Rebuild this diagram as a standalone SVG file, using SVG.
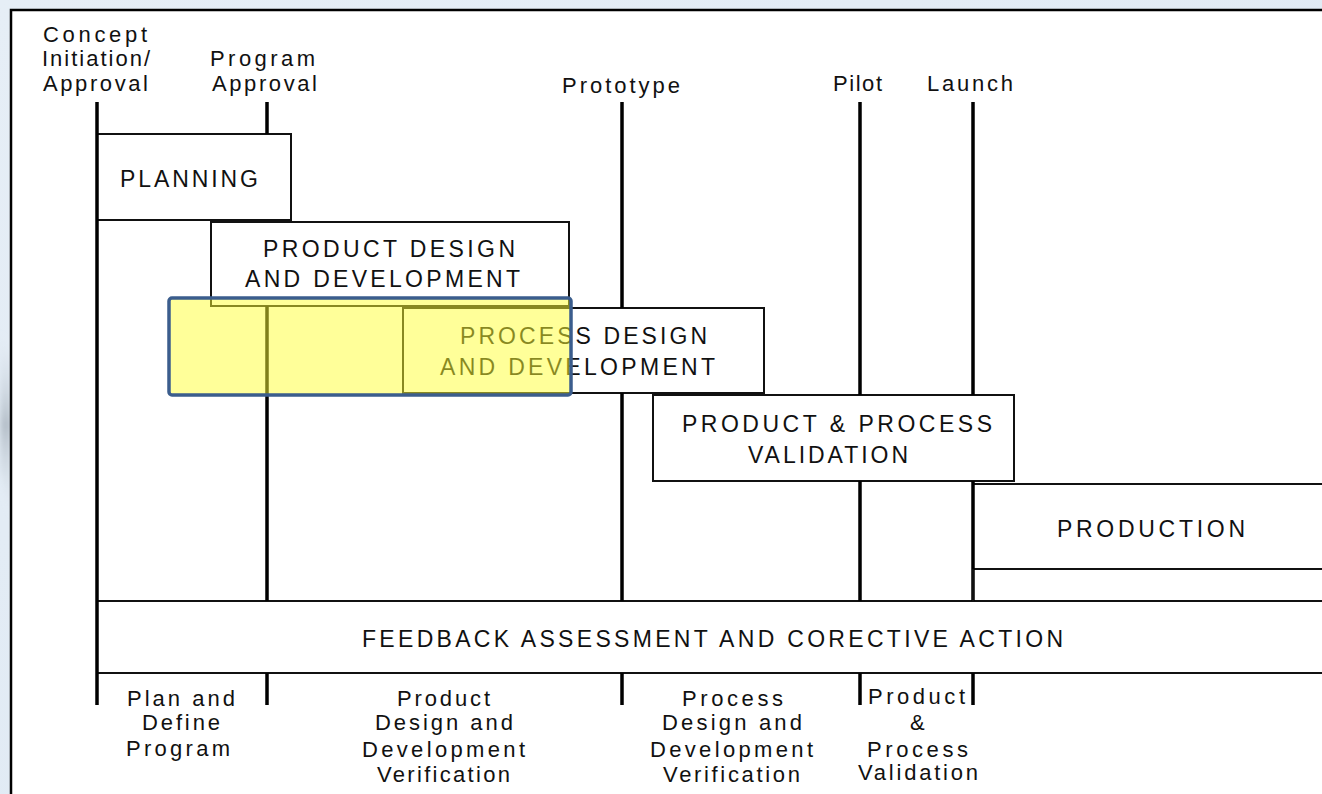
<svg xmlns="http://www.w3.org/2000/svg" width="1322" height="794" viewBox="0 0 1322 794">
  <defs>
    <linearGradient id="bg" x1="0" y1="0" x2="1" y2="1">
      <stop offset="0" stop-color="#e6eef6"/>
      <stop offset="1" stop-color="#dde8f3"/>
    </linearGradient>
    <linearGradient id="swoosh" x1="0" y1="0" x2="0" y2="1">
      <stop offset="0" stop-color="#dfe7ef" stop-opacity="0"/>
      <stop offset="0.5" stop-color="#b4bec8"/>
      <stop offset="1" stop-color="#dfe7ef" stop-opacity="0"/>
    </linearGradient>
    <filter id="soft" x="-1" y="-1" width="3" height="3">
      <feGaussianBlur stdDeviation="3"/>
    </filter>
  </defs>
  <style>
    text { font-family: "Liberation Sans", Arial, sans-serif; fill: #111; }
    .cap { font-size: 23px; }
    .lbl { font-size: 22px; }
    .box { fill: #fff; stroke: #111; stroke-width: 2; }
    .gate { stroke: #000; stroke-width: 3.5; fill: none; }
    .rule { stroke: #111; stroke-width: 2; fill: none; }
  </style>

  <!-- slide background -->
  <rect x="0" y="0" width="1322" height="794" fill="url(#bg)"/>
  <path d="M0 330 L12 360 L12 520 L0 470 Z" fill="url(#swoosh)" filter="url(#soft)"/>

  <!-- white chart panel -->
  <rect id="panel" x="11" y="10" width="1330" height="800" fill="#fff" stroke="#000" stroke-width="2.5"/>

  <!-- phase boxes -->
  <g id="planning">
    <rect class="box" x="97" y="134" width="194" height="86"/>
    <text class="cap" x="120" y="187" textLength="138">PLANNING</text>
  </g>
  <g id="product-design">
    <rect class="box" x="211" y="222" width="358" height="84"/>
    <text class="cap" x="263" y="257" textLength="252">PRODUCT DESIGN</text>
    <text class="cap" x="245" y="287" textLength="275">AND DEVELOPMENT</text>
  </g>
  <g id="process-design">
    <rect class="box" x="403" y="308" width="361" height="85"/>
    <text class="cap" x="460" y="344" textLength="247">PROCESS DESIGN</text>
    <text class="cap" x="440" y="375" textLength="275">AND DEVELOPMENT</text>
  </g>
  <g id="validation">
    <rect class="box" x="653" y="395" width="361" height="86"/>
    <text class="cap" x="682" y="432" textLength="310">PRODUCT &amp; PROCESS</text>
    <text class="cap" x="748" y="463" textLength="160">VALIDATION</text>
  </g>
  <g id="production">
    <rect class="box" x="973" y="484" width="400" height="85"/>
    <text class="cap" x="1057" y="537" textLength="188">PRODUCTION</text>
  </g>
  <g id="feedback">
    <rect class="box" x="97" y="601" width="1280" height="72"/>
    <text class="cap" x="362" y="647" textLength="701">FEEDBACK ASSESSMENT AND CORECTIVE ACTION</text>
  </g>

  <!-- milestone gates -->
  <g id="connectors">
    <path class="gate" d="M97 102 V705"/>
    <path class="gate" d="M267 102 V134 M267 306 V601 M267 673 V705"/>
    <path class="gate" d="M622 102 V308 M622 393 V601 M622 673 V705"/>
    <path class="gate" d="M860 102 V395 M860 481 V601 M860 673 V705"/>
    <path class="gate" d="M973 102 V395 M973 481 V601 M973 673 V705"/>
    <path class="rule" d="M973 601 V569"/>
  </g>

  <!-- milestone names -->
  <g id="milestone-concept">
    <text class="lbl" x="43" y="42" textLength="104">Concept</text>
    <text class="lbl" x="42" y="66" textLength="108">Initiation/</text>
    <text class="lbl" x="43" y="91" textLength="105">Approval</text>
  </g>
  <g id="milestone-program">
    <text class="lbl" x="210" y="66" textLength="105">Program</text>
    <text class="lbl" x="212" y="91" textLength="105">Approval</text>
  </g>
  <g id="milestone-prototype">
    <text class="lbl" x="562" y="93" textLength="118">Prototype</text>
  </g>
  <g id="milestone-pilot">
    <text class="lbl" x="833" y="91" textLength="49">Pilot</text>
  </g>
  <g id="milestone-launch">
    <text class="lbl" x="927" y="91" textLength="86">Launch</text>
  </g>

  <!-- phase names below the chart -->
  <g id="phase-plan">
    <text class="lbl" x="127" y="706" textLength="108">Plan and</text>
    <text class="lbl" x="142" y="730" textLength="78">Define</text>
    <text class="lbl" x="126" y="756" textLength="104">Program</text>
  </g>
  <g id="phase-product">
    <text class="lbl" x="397" y="706" textLength="93">Product</text>
    <text class="lbl" x="375" y="730" textLength="138">Design and</text>
    <text class="lbl" x="362" y="757" textLength="163">Development</text>
    <text class="lbl" x="377" y="782" textLength="133">Verification</text>
  </g>
  <g id="phase-process">
    <text class="lbl" x="682" y="706" textLength="101">Process</text>
    <text class="lbl" x="662" y="730" textLength="140">Design and</text>
    <text class="lbl" x="650" y="757" textLength="163">Development</text>
    <text class="lbl" x="663" y="782" textLength="137">Verification</text>
  </g>
  <g id="phase-validation">
    <text class="lbl" x="868" y="704" textLength="97">Product</text>
    <text class="lbl" x="910" y="730" textLength="17">&amp;</text>
    <text class="lbl" x="867" y="757" textLength="101">Process</text>
    <text class="lbl" x="858" y="780" textLength="120">Validation</text>
  </g>

  <!-- highlight over the early process design span -->
  <g id="highlight">
    <rect x="169" y="298" width="402" height="97" rx="3" fill="#ffff33" fill-opacity="0.5"/>
    <rect x="169" y="298" width="402" height="97" rx="3" fill="none" stroke="#3b5d8d" stroke-width="3.5"/>
  </g>
</svg>
